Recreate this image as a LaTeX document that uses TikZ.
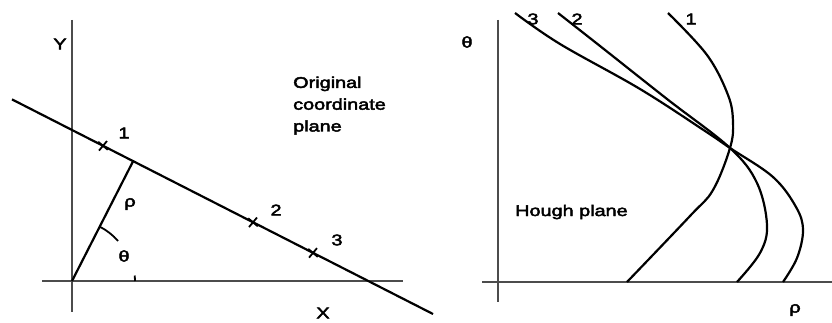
\documentclass[tikz,border=0pt]{standalone}
\usepackage{fontspec}
\setmainfont{Liberation Sans}[FakeStretch=1.28, FakeBold=3]
\usetikzlibrary{shapes.misc}
\begin{document}
\begin{tikzpicture}[x=1pt,y=-1pt,
  lbl/.style={inner sep=0pt, font=\fontsize{15.5}{18}\selectfont},
  ax/.style={line width=1.8pt, black!70},
  ln/.style={line width=2.2pt},
  crv/.style={line width=2.2pt, smooth, tension=0.6},
  mk/.style={cross out, draw, minimum size=7pt, inner sep=0pt, line width=1.8pt, rotate=5}]
\useasboundingbox (0,0) rectangle (832,323);
% ---------- left: original coordinate plane ----------
\coordinate (O1) at (72,281);
\coordinate (yt) at (72,20);
\coordinate (yb) at (72,312);
\coordinate (xl) at (42,281);
\coordinate (xr) at (403,281);
\coordinate (la) at (12,99.4);
\coordinate (lb) at (433,314);
\coordinate (foot) at (133.1,161.2);
\draw[ax] (yt) -- (yb);
\draw[ax] (xl) -- (xr);
\draw[ln] (la) -- (lb);
\draw[ln] (O1) -- (foot);
\node[mk] (m1) at (103,145.8) {};
\node[mk] (m2) at (253,222.3) {};
\node[mk] (m3) at (313,252.9) {};
\draw[line width=1.8pt] (O1) ++(-63:61) arc[start angle=-63, end angle=-41, radius=61];
\draw[line width=1.8pt] (O1) ++(-5:63) arc[start angle=-5, end angle=0, radius=63];
\node[lbl] (ylab) at (60,44) {Y};
\node[lbl] (xlab) at (323,313) {X};
\node[lbl] (n1) at (124,133) {1};
\node[lbl] (n2) at (276,210) {2};
\node[lbl] (n3) at (337,240) {3};
\node[lbl] (rho1) at (130,204) {ρ};
\node[lbl] (th1) at (124,256) {θ};
\node[lbl, anchor=base west, align=left, font=\fontsize{15.5}{21.8}\selectfont] (orig) at (293,131.5) {Original\\coordinate\\plane};
% ---------- right: Hough plane ----------
\coordinate (tt) at (498,20);
\coordinate (tb) at (498,302);
\coordinate (rl) at (482,282);
\coordinate (rr) at (832,282);
\draw[ax] (tt) -- (tb);
\draw[ax] (rl) -- (rr);
\draw[crv] plot coordinates {(668,13) (707,55) (728,95) (733,122) (730,148) (713,190) (690,216) (627,282)};
\draw[crv] plot coordinates {(558,13) (600,46) (667,99) (730,148) (757,183) (767,225) (760,253) (737,282)};
\draw[crv] plot coordinates {(515,13) (560,44) (640,89) (705,131) (730,148) (773,177) (796,207) (803,230) (797,258) (783,282)};
\node[lbl] (thlab) at (467,42) {θ};
\node[lbl] (rholab) at (795,310) {ρ};
\node[lbl] (c1) at (691,19) {1};
\node[lbl] (c2) at (577,19) {2};
\node[lbl] (c3) at (533,19) {3};
\node[lbl, anchor=base west] (hough) at (515,216) {Hough plane};
\end{tikzpicture}
\end{document}
